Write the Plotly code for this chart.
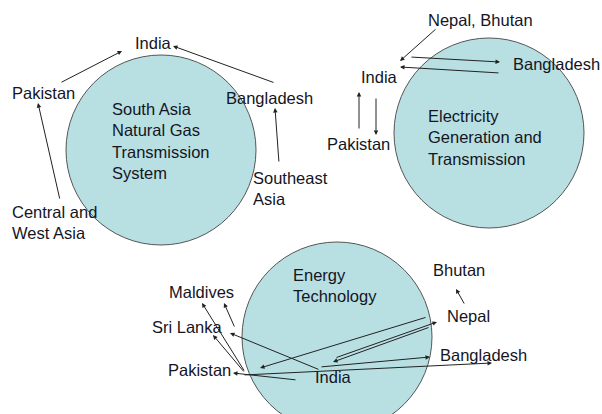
import plotly.graph_objects as go

# ---- diagram data (in picture coordinates: x right, y down) ----
circle_cx = [161, 489, 337]
circle_cy = [150, 133, 337]
circle_r = [95, 95, 95]

circle_titles = [
    "South Asia<br>Natural Gas<br>Transmission<br>System",
    "Electricity<br>Generation and<br>Transmission",
    "Energy<br>Technology",
]
title_x = [110, 426, 291]
title_y = [140.5, 137, 285]

label_text = [
    "India", "Pakistan", "Bangladesh", "Southeast<br>Asia", "Central and<br>West Asia",
    "Nepal, Bhutan", "Bangladesh", "India", "Pakistan",
    "Bhutan", "Maldives", "Sri Lanka", "Nepal", "Bangladesh", "Pakistan", "India",
]
label_x = [133, 10, 224, 251, 10,
           426, 511, 359, 325,
           431, 167, 150, 445, 438, 166, 313]
label_y = [43, 93, 98, 188.5, 222,
           20, 64, 77, 144,
           270, 292, 327, 316, 355, 370, 377]

# arrows: tail (x, y) -> head (x, y)
arrow_tail_x = [60, 275, 60, 279,
                437, 410, 500, 359, 376,
                465, 245, 235, 245, 320, 427, 297, 243, 320, 335, 430]
arrow_tail_y = [83, 83, 200, 163,
                28, 57, 73, 130, 97,
                305, 372, 328, 373, 370, 317, 380, 375, 367, 358, 327]
arrow_head_x = [122, 173, 38, 275,
                400, 500, 400, 359, 376,
                456, 202, 224, 213, 230, 260, 233, 492, 430, 437, 333]
arrow_head_y = [51, 46, 103, 108,
                61, 62, 67, 92, 135,
                289, 303, 303, 335, 333, 368, 373, 363, 357, 322, 362]

FONT = "Liberation Sans, Arial, sans-serif"
TXT = "#15151f"
FS = 16.5

fig = go.Figure()

shapes = []
for cx, cy, r in zip(circle_cx, circle_cy, circle_r):
    shapes.append(dict(type="circle", xref="x", yref="y",
                       x0=cx - r, x1=cx + r, y0=cy - r, y1=cy + r,
                       fillcolor="#b8e0e3", line=dict(color="#555555", width=1),
                       layer="below"))

annotations = []
for t, x, y in zip(circle_titles, title_x, title_y):
    annotations.append(dict(x=x, y=y, xref="x", yref="y", text=t, showarrow=False,
                            xanchor="left", yanchor="middle", align="left",
                            font=dict(family=FONT, size=FS, color=TXT)))
for t, x, y in zip(label_text, label_x, label_y):
    annotations.append(dict(x=x, y=y, xref="x", yref="y", text=t, showarrow=False,
                            xanchor="left", yanchor="middle", align="left",
                            font=dict(family=FONT, size=FS, color=TXT)))
for tx, ty, hx, hy in zip(arrow_tail_x, arrow_tail_y, arrow_head_x, arrow_head_y):
    annotations.append(dict(x=hx, y=hy, ax=tx, ay=ty, xref="x", yref="y",
                            axref="x", ayref="y", text="", showarrow=True,
                            arrowhead=2, arrowsize=0.9, arrowwidth=1,
                            arrowcolor="#222222", standoff=0, startstandoff=0))

fig.update_layout(
    width=602, height=414,
    margin=dict(l=0, r=0, t=0, b=0),
    paper_bgcolor="white", plot_bgcolor="white",
    xaxis=dict(range=[0, 602], visible=False, fixedrange=True),
    yaxis=dict(range=[414, 0], visible=False, fixedrange=True),
    shapes=shapes, annotations=annotations, showlegend=False,
)

fig.write_html("out.html", config={"displayModeBar": False},
               post_script="document.body.style.margin='0';")
